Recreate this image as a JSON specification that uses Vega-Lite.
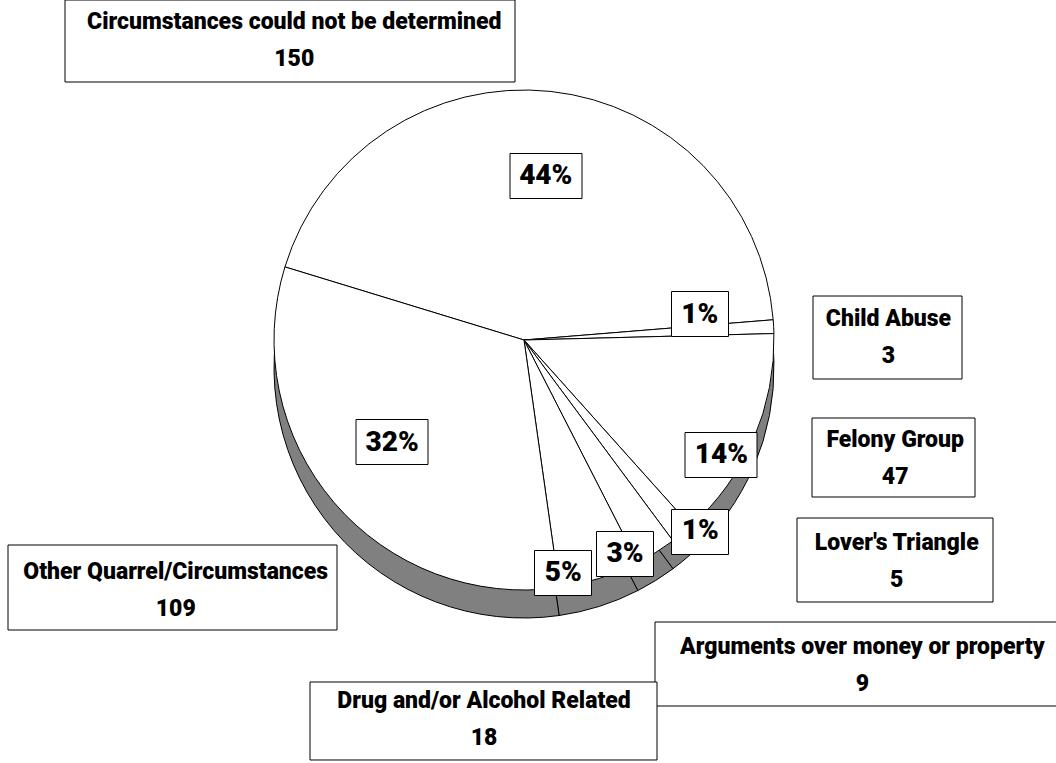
{
  "$schema": "https://vega.github.io/schema/vega-lite/v6.json",
  "width": 1048,
  "height": 680,
  "autosize": {"type": "none"},
  "padding": {"left": 0, "top": 0, "right": 8, "bottom": 83},
  "background": "white",
  "config": {"view": {"stroke": null}, "text": {"font": "Roboto", "fontWeight": 900, "color": "black"}},
  "data": {"values": [
    {"cat": "Circumstances could not be determined", "n": 150, "pct": "44%", "ord": 1},
    {"cat": "Child Abuse", "n": 3, "pct": "1%", "ord": 2},
    {"cat": "Felony Group", "n": 47, "pct": "14%", "ord": 3},
    {"cat": "Lover's Triangle", "n": 5, "pct": "1%", "ord": 4},
    {"cat": "Arguments over money or property", "n": 9, "pct": "3%", "ord": 5},
    {"cat": "Drug and/or Alcohol Related", "n": 18, "pct": "5%", "ord": 6},
    {"cat": "Other Quarrel/Circumstances", "n": 109, "pct": "32%", "ord": 7}
  ]},
  "transform": [{"calculate": "datum.cat + '\\n' + datum.n", "as": "label"}],
  "layer": [
    {"mark": {"type": "arc", "outerRadius": 250, "fill": "#808080", "stroke": "black", "strokeWidth": 1, "yOffset": 28},
     "encoding": {"theta": {"field": "n", "type": "quantitative", "stack": true, "scale": {"range": [-1.27409, 5.0091]}}, "order": {"field": "ord", "type": "quantitative"}, "detail": {"field": "cat"}}},
    {"mark": {"type": "arc", "outerRadius": 250, "fill": "white", "stroke": "black", "strokeWidth": 1},
     "encoding": {"theta": {"field": "n", "type": "quantitative", "stack": true, "scale": {"range": [-1.27409, 5.0091]}}, "order": {"field": "ord", "type": "quantitative"}, "detail": {"field": "cat"}}},

    {"transform": [{"filter": "datum.ord === 1"}], "mark": {"type": "point", "shape": "M-1,-0.625H1V0.625H-1Z", "size": 5184, "filled": true, "fill": "white", "stroke": "black", "strokeWidth": 1, "opacity": 1, "xOffset": 22, "yOffset": -164}, "encoding": {}},
    {"transform": [{"filter": "datum.ord === 2"}], "mark": {"type": "point", "shape": "M-1,-0.7895H1V0.7895H-1Z", "size": 3249, "filled": true, "fill": "white", "stroke": "black", "strokeWidth": 1, "opacity": 1, "xOffset": 176, "yOffset": -26}, "encoding": {}},
    {"transform": [{"filter": "datum.ord === 3"}], "mark": {"type": "point", "shape": "M-1,-0.625H1V0.625H-1Z", "size": 5184, "filled": true, "fill": "white", "stroke": "black", "strokeWidth": 1, "opacity": 1, "xOffset": 197, "yOffset": 115}, "encoding": {}},
    {"transform": [{"filter": "datum.ord === 4"}], "mark": {"type": "point", "shape": "M-1,-0.7895H1V0.7895H-1Z", "size": 3249, "filled": true, "fill": "white", "stroke": "black", "strokeWidth": 1, "opacity": 1, "xOffset": 176, "yOffset": 192}, "encoding": {}},
    {"transform": [{"filter": "datum.ord === 5"}], "mark": {"type": "point", "shape": "M-1,-0.7895H1V0.7895H-1Z", "size": 3249, "filled": true, "fill": "white", "stroke": "black", "strokeWidth": 1, "opacity": 1, "xOffset": 101, "yOffset": 214}, "encoding": {}},
    {"transform": [{"filter": "datum.ord === 6"}], "mark": {"type": "point", "shape": "M-1,-0.7895H1V0.7895H-1Z", "size": 3249, "filled": true, "fill": "white", "stroke": "black", "strokeWidth": 1, "opacity": 1, "xOffset": 39, "yOffset": 233}, "encoding": {}},
    {"transform": [{"filter": "datum.ord === 7"}], "mark": {"type": "point", "shape": "M-1,-0.625H1V0.625H-1Z", "size": 5184, "filled": true, "fill": "white", "stroke": "black", "strokeWidth": 1, "opacity": 1, "xOffset": -132, "yOffset": 102}, "encoding": {}},

    {"mark": {"type": "text", "radius": 165, "dx": 4, "dy": 0, "fontSize": 28, "align": "center", "baseline": "middle"},
     "encoding": {"theta": {"field": "n", "type": "quantitative", "stack": true, "scale": {"range": [-1.27409, 5.0091]}}, "order": {"field": "ord", "type": "quantitative"}, "detail": {"field": "cat"}, "text": {"condition": {"test": "datum.ord === 1", "field": "pct"}, "value": ""}}},
    {"mark": {"type": "text", "radius": 178, "dx": -2, "dy": -16, "fontSize": 28, "align": "center", "baseline": "middle"},
     "encoding": {"theta": {"field": "n", "type": "quantitative", "stack": true, "scale": {"range": [-1.27409, 5.0091]}}, "order": {"field": "ord", "type": "quantitative"}, "detail": {"field": "cat"}, "text": {"condition": {"test": "datum.ord === 2", "field": "pct"}, "value": ""}}},
    {"mark": {"type": "text", "radius": 228, "dx": -12, "dy": 25, "fontSize": 28, "align": "center", "baseline": "middle"},
     "encoding": {"theta": {"field": "n", "type": "quantitative", "stack": true, "scale": {"range": [-1.27409, 5.0091]}}, "order": {"field": "ord", "type": "quantitative"}, "detail": {"field": "cat"}, "text": {"condition": {"test": "datum.ord === 3", "field": "pct"}, "value": ""}}},
    {"mark": {"type": "text", "radius": 260, "dx": 12, "dy": -10, "fontSize": 28, "align": "center", "baseline": "middle"},
     "encoding": {"theta": {"field": "n", "type": "quantitative", "stack": true, "scale": {"range": [-1.27409, 5.0091]}}, "order": {"field": "ord", "type": "quantitative"}, "detail": {"field": "cat"}, "text": {"condition": {"test": "datum.ord === 4", "field": "pct"}, "value": ""}}},
    {"mark": {"type": "text", "radius": 237, "dx": -24, "dy": 13, "fontSize": 28, "align": "center", "baseline": "middle"},
     "encoding": {"theta": {"field": "n", "type": "quantitative", "stack": true, "scale": {"range": [-1.27409, 5.0091]}}, "order": {"field": "ord", "type": "quantitative"}, "detail": {"field": "cat"}, "text": {"condition": {"test": "datum.ord === 5", "field": "pct"}, "value": ""}}},
    {"mark": {"type": "text", "radius": 236, "dx": -32, "dy": 8, "fontSize": 28, "align": "center", "baseline": "middle"},
     "encoding": {"theta": {"field": "n", "type": "quantitative", "stack": true, "scale": {"range": [-1.27409, 5.0091]}}, "order": {"field": "ord", "type": "quantitative"}, "detail": {"field": "cat"}, "text": {"condition": {"test": "datum.ord === 6", "field": "pct"}, "value": ""}}},
    {"mark": {"type": "text", "radius": 167, "dx": -5, "dy": -6, "fontSize": 28, "align": "center", "baseline": "middle"},
     "encoding": {"theta": {"field": "n", "type": "quantitative", "stack": true, "scale": {"range": [-1.27409, 5.0091]}}, "order": {"field": "ord", "type": "quantitative"}, "detail": {"field": "cat"}, "text": {"condition": {"test": "datum.ord === 7", "field": "pct"}, "value": ""}}},

    {"transform": [{"filter": "datum.ord === 1"}], "mark": {"type": "point", "shape": "M-1,-0.18222H1V0.18222H-1Z", "size": 202500, "filled": true, "fill": "white", "stroke": "black", "strokeWidth": 1, "opacity": 1, "xOffset": -234, "yOffset": -299}, "encoding": {}},
    {"transform": [{"filter": "datum.ord === 2"}], "mark": {"type": "point", "shape": "M-1,-0.55705H1V0.55705H-1Z", "size": 22201, "filled": true, "fill": "white", "stroke": "black", "strokeWidth": 1, "opacity": 1, "xOffset": 363.5, "yOffset": -2.5}, "encoding": {}},
    {"transform": [{"filter": "datum.ord === 3"}], "mark": {"type": "point", "shape": "M-1,-0.48466H1V0.48466H-1Z", "size": 26569, "filled": true, "fill": "white", "stroke": "black", "strokeWidth": 1, "opacity": 1, "xOffset": 369.5, "yOffset": 117.5}, "encoding": {}},
    {"transform": [{"filter": "datum.ord === 4"}], "mark": {"type": "point", "shape": "M-1,-0.42857H1V0.42857H-1Z", "size": 38416, "filled": true, "fill": "white", "stroke": "black", "strokeWidth": 1, "opacity": 1, "xOffset": 371, "yOffset": 220}, "encoding": {}},
    {"transform": [{"filter": "datum.ord === 5"}], "mark": {"type": "point", "shape": "M-1,-0.20792H1V0.20792H-1Z", "size": 163216, "filled": true, "fill": "white", "stroke": "black", "strokeWidth": 1, "opacity": 1, "xOffset": 333, "yOffset": 324}, "encoding": {}},
    {"transform": [{"filter": "datum.ord === 6"}], "mark": {"type": "point", "shape": "M-1,-0.22478H1V0.22478H-1Z", "size": 120409, "filled": true, "fill": "white", "stroke": "black", "strokeWidth": 1, "opacity": 1, "xOffset": -40.5, "yOffset": 381}, "encoding": {}},
    {"transform": [{"filter": "datum.ord === 7"}], "mark": {"type": "point", "shape": "M-1,-0.25836H1V0.25836H-1Z", "size": 108241, "filled": true, "fill": "white", "stroke": "black", "strokeWidth": 1, "opacity": 1, "xOffset": -351.5, "yOffset": 247.5}, "encoding": {}},

    {"mark": {"type": "text", "radius": 300, "dx": -262, "dy": -19.5, "fontSize": 23, "align": "center", "baseline": "middle", "lineBreak": "\n", "lineHeight": 37},
     "encoding": {"theta": {"field": "n", "type": "quantitative", "stack": true, "scale": {"range": [-1.27409, 5.0091]}}, "order": {"field": "ord", "type": "quantitative"}, "detail": {"field": "cat"}, "text": {"condition": {"test": "datum.ord === 1", "field": "label"}, "value": ""}}},
    {"mark": {"type": "text", "radius": 365, "dx": 0, "dy": -1.5, "fontSize": 23, "align": "center", "baseline": "middle", "lineBreak": "\n", "lineHeight": 37},
     "encoding": {"theta": {"field": "n", "type": "quantitative", "stack": true, "scale": {"range": [-1.27409, 5.0091]}}, "order": {"field": "ord", "type": "quantitative"}, "detail": {"field": "cat"}, "text": {"condition": {"test": "datum.ord === 2", "field": "label"}, "value": ""}}},
    {"mark": {"type": "text", "radius": 389, "dx": 14, "dy": -54.5, "fontSize": 23, "align": "center", "baseline": "middle", "lineBreak": "\n", "lineHeight": 37},
     "encoding": {"theta": {"field": "n", "type": "quantitative", "stack": true, "scale": {"range": [-1.27409, 5.0091]}}, "order": {"field": "ord", "type": "quantitative"}, "detail": {"field": "cat"}, "text": {"condition": {"test": "datum.ord === 3", "field": "label"}, "value": ""}}},
    {"mark": {"type": "text", "radius": 433, "dx": 99, "dy": -132.5, "fontSize": 23, "align": "center", "baseline": "middle", "lineBreak": "\n", "lineHeight": 37},
     "encoding": {"theta": {"field": "n", "type": "quantitative", "stack": true, "scale": {"range": [-1.27409, 5.0091]}}, "order": {"field": "ord", "type": "quantitative"}, "detail": {"field": "cat"}, "text": {"condition": {"test": "datum.ord === 4", "field": "label"}, "value": ""}}},
    {"mark": {"type": "text", "radius": 469, "dx": 91, "dy": -91.5, "fontSize": 23, "align": "center", "baseline": "middle", "lineBreak": "\n", "lineHeight": 37},
     "encoding": {"theta": {"field": "n", "type": "quantitative", "stack": true, "scale": {"range": [-1.27409, 5.0091]}}, "order": {"field": "ord", "type": "quantitative"}, "detail": {"field": "cat"}, "text": {"condition": {"test": "datum.ord === 5", "field": "label"}, "value": ""}}},
    {"mark": {"type": "text", "radius": 381, "dx": -155, "dy": -2.5, "fontSize": 23, "align": "center", "baseline": "middle", "lineBreak": "\n", "lineHeight": 37},
     "encoding": {"theta": {"field": "n", "type": "quantitative", "stack": true, "scale": {"range": [-1.27409, 5.0091]}}, "order": {"field": "ord", "type": "quantitative"}, "detail": {"field": "cat"}, "text": {"condition": {"test": "datum.ord === 6", "field": "label"}, "value": ""}}},
    {"mark": {"type": "text", "radius": 428, "dx": -23, "dy": -46.5, "fontSize": 23, "align": "center", "baseline": "middle", "lineBreak": "\n", "lineHeight": 37},
     "encoding": {"theta": {"field": "n", "type": "quantitative", "stack": true, "scale": {"range": [-1.27409, 5.0091]}}, "order": {"field": "ord", "type": "quantitative"}, "detail": {"field": "cat"}, "text": {"condition": {"test": "datum.ord === 7", "field": "label"}, "value": ""}}}
  ]
}
